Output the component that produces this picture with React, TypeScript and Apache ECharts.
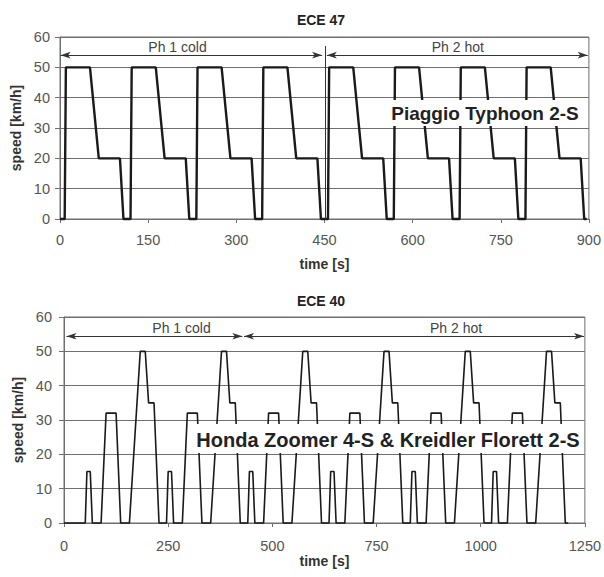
import React, { useEffect, useRef } from 'react';
import * as echarts from 'echarts';

// ECE 47 (Piaggio Typhoon 2-S): time [s] and speed [km/h]
const ece47Time = [
  0, 8, 10, 51, 66, 102, 108,
  120, 122, 163, 178, 214, 220,
  232, 234, 275, 290, 326, 332,
  344, 346, 387, 402, 438, 444,
  456, 458, 499, 514, 550, 556,
  568, 570, 611, 626, 662, 668,
  680, 682, 723, 738, 774, 780,
  792, 794, 835, 850, 886, 892,
  896,
];
const ece47Speed = [
  0, 0, 50, 50, 20, 20, 0,
  0, 50, 50, 20, 20, 0,
  0, 50, 50, 20, 20, 0,
  0, 50, 50, 20, 20, 0,
  0, 50, 50, 20, 20, 0,
  0, 50, 50, 20, 20, 0,
  0, 50, 50, 20, 20, 0,
  0, 50, 50, 20, 20, 0,
  0,
];

// ECE 40 (Honda Zoomer 4-S & Kreidler Florett 2-S)
const ece40Time = [
  0,
  51, 55, 63, 68, 89, 101, 125, 136, 157, 183, 195, 203, 216, 228, 235,
  246, 250, 258, 263, 284, 296, 320, 331, 352, 378, 390, 398, 411, 423, 430,
  441, 445, 453, 458, 479, 491, 515, 526, 547, 573, 585, 593, 606, 618, 625,
  636, 640, 648, 653, 674, 686, 710, 721, 742, 768, 780, 788, 801, 813, 820,
  831, 835, 843, 848, 869, 881, 905, 916, 937, 963, 975, 983, 996, 1008, 1015,
  1026, 1030, 1038, 1043, 1064, 1076, 1100, 1111, 1132, 1158, 1170, 1178, 1191, 1203, 1210,
];
const ece40Speed = [
  0,
  0, 15, 15, 0, 0, 32, 32, 0, 0, 50, 50, 35, 35, 0, 0,
  0, 15, 15, 0, 0, 32, 32, 0, 0, 50, 50, 35, 35, 0, 0,
  0, 15, 15, 0, 0, 32, 32, 0, 0, 50, 50, 35, 35, 0, 0,
  0, 15, 15, 0, 0, 32, 32, 0, 0, 50, 50, 35, 35, 0, 0,
  0, 15, 15, 0, 0, 32, 32, 0, 0, 50, 50, 35, 35, 0, 0,
  0, 15, 15, 0, 0, 32, 32, 0, 0, 50, 50, 35, 35, 0, 0,
];

const titles = ['ECE 47', 'ECE 40'];
const vehicles = ['Piaggio Typhoon 2-S', 'Honda Zoomer 4-S & Kreidler Florett 2-S'];
const phaseNames = ['Ph 1 cold', 'Ph 2 hot'];
// phase arrows [start, end] in seconds
const phases47 = [[1, 446], [454, 898]];
const phases40 = [[6, 428], [432, 1248]];
const phaseLabelAt47 = [200, 677];
const phaseLabelAt40 = [282, 941];
const split47 = 451;
const split40 = 430;
const xTicks47 = { min: 0, max: 900, interval: 150 };
const xTicks40 = { min: 0, max: 1250, interval: 250 };
const yTicks = { min: 0, max: 60, interval: 10 };

const FONT = 'Liberation Sans, Arial, sans-serif';
const GRID = '#6f6f6f';

function axisX(gridIndex: number, ticks: any, nameGap: number, margin: number) {
  return {
    type: 'value', gridIndex, ...ticks,
    name: 'time [s]', nameLocation: 'middle', nameGap,
    nameTextStyle: { fontFamily: FONT, fontWeight: 'bold', fontSize: 14, color: '#333' },
    axisLine: { show: true, lineStyle: { color: GRID, width: 1 } },
    axisTick: { show: true, length: 4, lineStyle: { color: GRID } },
    axisLabel: { color: '#555', fontSize: 14.5, fontFamily: FONT, margin, formatter: (v: number) => String(v) },
    splitLine: { show: false },
  };
}
function axisY(gridIndex: number, nameGap: number, margin: number) {
  return {
    type: 'value', gridIndex, ...yTicks,
    name: 'speed [km/h]', nameLocation: 'middle', nameGap, nameRotate: 90,
    nameTextStyle: { fontFamily: FONT, fontWeight: 'bold', fontSize: 14, color: '#333' },
    axisLine: { show: true, lineStyle: { color: GRID, width: 1 } },
    axisTick: { show: true, length: 5, lineStyle: { color: GRID } },
    axisLabel: { color: '#555', fontSize: 14.5, fontFamily: FONT, margin },
    splitLine: { show: true, lineStyle: { color: GRID, width: 1 } },
  };
}

function markers(phases: number[][], labelsAt: number[], split: number, arrowY: number, splitTop: number, splitBottom: number) {
  return {
    markLine: {
      silent: true,
      animation: false,
      label: { show: false },
      lineStyle: { color: '#333', width: 1, type: 'solid' },
      symbol: ['arrow', 'arrow'],
      symbolSize: [5, 10],
      data: [
        [{ coord: [phases[0][0], arrowY] }, { coord: [phases[0][1], arrowY] }],
        [{ coord: [phases[1][0], arrowY] }, { coord: [phases[1][1], arrowY] }],
        [{ coord: [split, splitBottom], symbol: 'none' }, { coord: [split, splitTop], symbol: 'none' }],
      ],
    },
    markPoint: {
      silent: true,
      animation: false,
      symbol: 'circle',
      symbolSize: 0,
      label: {
        show: true, position: 'top', distance: 1, formatter: '{b}',
        color: '#444', fontSize: 14, fontFamily: FONT,
      },
      data: [
        { name: phaseNames[0], coord: [labelsAt[0], arrowY] },
        { name: phaseNames[1], coord: [labelsAt[1], arrowY] },
      ],
    },
  };
}

export default function App() {
  const ref = useRef<HTMLDivElement>(null);
  useEffect(() => {
    if (!ref.current) return;
    const chart = echarts.init(ref.current, undefined, { renderer: 'svg' });
    const data47 = ece47Time.map((t, i) => [t, ece47Speed[i]]);
    const data40 = ece40Time.map((t, i) => [t, ece40Speed[i]]);
    chart.setOption({
      animation: false,
      grid: [
        { left: 60, right: 14, top: 37, height: 182, show: true, borderColor: GRID, borderWidth: 1, backgroundColor: 'transparent' },
        { left: 64, right: 19, top: 317, height: 206, show: true, borderColor: GRID, borderWidth: 1, backgroundColor: 'transparent' },
      ],
      xAxis: [axisX(0, xTicks47, 38, 13), axisX(1, xTicks40, 31, 15)],
      yAxis: [axisY(0, 35, 10), axisY(1, 37, 12)],
      series: [
        {
          type: 'line', xAxisIndex: 0, yAxisIndex: 0, data: data47, symbol: 'none', clip: false,
          lineStyle: { color: '#1a1a1a', width: 2.4 },
          ...markers(phases47, phaseLabelAt47, split47, 54, 57, 0),
        },
        {
          type: 'line', xAxisIndex: 1, yAxisIndex: 1, data: data40, symbol: 'none', clip: false,
          lineStyle: { color: '#1a1a1a', width: 1.6 },
          ...markers(phases40, phaseLabelAt40, split40, 54.4, 56, -2.8),
        },
      ],
      graphic: [
        { type: 'text', x: 321, y: 20, z: 100, style: { text: titles[0], align: 'center', verticalAlign: 'middle', fontFamily: FONT, fontWeight: 'bold', fontSize: 14, fill: '#222' } },
        { type: 'text', x: 321, y: 301, z: 100, style: { text: titles[1], align: 'center', verticalAlign: 'middle', fontFamily: FONT, fontWeight: 'bold', fontSize: 14, fill: '#222' } },
        { type: 'rect', z: 100, shape: { x: 385, y: 100, width: 203, height: 26 }, style: { fill: '#fff' } },
        { type: 'text', x: 485, y: 113, z: 101, style: { text: vehicles[0], align: 'center', verticalAlign: 'middle', fontFamily: FONT, fontWeight: 'bold', fontSize: 19, fill: '#222' } },
        { type: 'rect', z: 100, shape: { x: 193, y: 424, width: 389, height: 29 }, style: { fill: '#fff' } },
        { type: 'text', x: 388, y: 440, z: 101, style: { text: vehicles[1], align: 'center', verticalAlign: 'middle', fontFamily: FONT, fontWeight: 'bold', fontSize: 20, fill: '#222' } },
      ],
    });
    return () => chart.dispose();
  }, []);
  return <div ref={ref} style={{ position: 'absolute', left: 0, top: 0, width: 604, height: 577, background: '#fff' }} />;
}
